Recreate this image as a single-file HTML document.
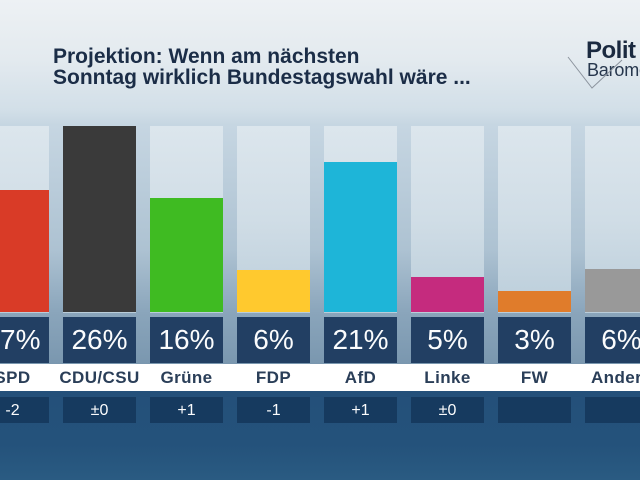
<!DOCTYPE html>
<html><head><meta charset="utf-8">
<style>
html,body{margin:0;padding:0;}
body{width:640px;height:480px;position:relative;overflow:hidden;font-family:"Liberation Sans",Arial,sans-serif;
background:linear-gradient(180deg,#edf1f4 0px,#e3eaef 60px,#d2dfe8 110px,#c6d6e2 125px,#adc2d2 250px,#8aa5bb 313px,#7a97af 364px);}
.abs{position:absolute;}
.panel{position:absolute;top:126px;height:187px;width:73px;background:linear-gradient(180deg,#dce6ed 0%,#d0dde6 50%,#bacdda 100%);}
.bar{position:absolute;width:73px;}
.pbox{position:absolute;top:317px;height:46px;width:73px;background:#223f63;color:#fbfcfd;font-size:28px;line-height:46px;text-align:center;}
.band{position:absolute;left:0;top:364px;width:640px;height:27px;background:#fff;}
.name{position:absolute;top:364px;height:27px;width:87px;line-height:28px;text-align:center;font-weight:bold;font-size:17px;color:#2a3e58;letter-spacing:0.4px;}
.bottom{position:absolute;left:0;top:391px;width:640px;height:89px;background:linear-gradient(180deg,#24507a 0%,#24527b 60%,#2a5b82 100%);}
.cbox{position:absolute;top:397px;height:26px;width:73px;background:#163a5f;color:#fbfcfd;font-size:16px;line-height:27px;text-align:center;}
.title{position:absolute;left:53px;top:46px;font-weight:bold;font-size:21px;line-height:21px;color:#1b2d47;white-space:nowrap;}
</style></head><body>

<div class="title">Projektion: Wenn am nächsten<br>Sonntag wirklich Bundestagswahl wäre ...</div>

<div class="abs" style="left:586px;top:37px;font-weight:bold;font-size:24px;color:#1b2a40;letter-spacing:-0.5px;">Polit</div>
<div class="abs" style="left:587px;top:60px;font-size:18px;color:#27374d;letter-spacing:-0.2px;">Barome</div>
<svg class="abs" style="left:0;top:0" width="640" height="480"><polyline points="568,57 592,88 622,60" fill="none" stroke="#8c949e" stroke-width="1"/></svg>

<!-- panels -->
<div class="panel" style="left:-24px"></div>
<div class="panel" style="left:63px"></div>
<div class="panel" style="left:150px"></div>
<div class="panel" style="left:237px"></div>
<div class="panel" style="left:324px"></div>
<div class="panel" style="left:411px"></div>
<div class="panel" style="left:498px"></div>
<div class="panel" style="left:585px"></div>

<!-- bars -->
<div class="bar" style="left:-24px;top:190px;height:122px;background:#d93b27"></div>
<div class="bar" style="left:63px;top:126px;height:186px;background:#3a3a3a"></div>
<div class="bar" style="left:150px;top:198px;height:114px;background:#3fbb22"></div>
<div class="bar" style="left:237px;top:270px;height:42px;background:#ffc92e"></div>
<div class="bar" style="left:324px;top:162px;height:150px;background:#1eb5d8"></div>
<div class="bar" style="left:411px;top:277px;height:35px;background:#c52b7e"></div>
<div class="bar" style="left:498px;top:291px;height:21px;background:#e07c2b"></div>
<div class="bar" style="left:585px;top:269px;height:43px;background:#999999"></div>

<!-- percent boxes -->
<div class="pbox" style="left:-24px">17%</div>
<div class="pbox" style="left:63px">26%</div>
<div class="pbox" style="left:150px">16%</div>
<div class="pbox" style="left:237px">6%</div>
<div class="pbox" style="left:324px">21%</div>
<div class="pbox" style="left:411px">5%</div>
<div class="pbox" style="left:498px">3%</div>
<div class="pbox" style="left:585px">6%</div>

<div class="band"></div>
<div class="name" style="left:-31px">SPD</div>
<div class="name" style="left:56px">CDU/CSU</div>
<div class="name" style="left:143px">Grüne</div>
<div class="name" style="left:230px">FDP</div>
<div class="name" style="left:317px">AfD</div>
<div class="name" style="left:404px">Linke</div>
<div class="name" style="left:491px">FW</div>
<div class="name" style="left:578px">Andere</div>

<div class="bottom"></div>
<div class="cbox" style="left:-24px">-2</div>
<div class="cbox" style="left:63px">±0</div>
<div class="cbox" style="left:150px">+1</div>
<div class="cbox" style="left:237px">-1</div>
<div class="cbox" style="left:324px">+1</div>
<div class="cbox" style="left:411px">±0</div>
<div class="cbox" style="left:498px"></div>
<div class="cbox" style="left:585px"></div>

</body></html>
